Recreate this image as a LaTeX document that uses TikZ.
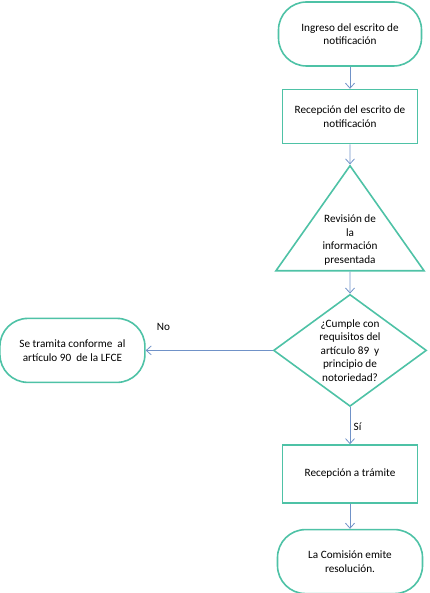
\documentclass[tikz,border=0pt]{standalone}
\usepackage{fontspec}
\setmainfont{Carlito}
\usetikzlibrary{positioning,shapes.geometric,arrows.meta}
\definecolor{borde}{RGB}{78,194,166}
\definecolor{flecha}{RGB}{112,146,200}
\tikzset{
  terminal/.style={draw=borde, line width=1.6pt, rounded corners=28pt, align=center, minimum width=143pt, minimum height=64pt},
  proceso/.style={draw=borde, line width=1.6pt, align=center, minimum width=135pt, minimum height=54pt},
  flujo/.style={draw=flecha, line width=0.8pt, ->}
}
\begin{document}
\begin{tikzpicture}[x=1pt, y=1pt, >={Straight Barb[length=5pt,width=9pt]}, font=\fontsize{11.2}{13.6}\selectfont]
\useasboundingbox (0,0) rectangle (429,-593);
\node[terminal] (ingreso) at (350,-34) {Ingreso del escrito de\\notificación};
\node[proceso, below=22pt of ingreso] (recepcion) {Recepción del escrito de\\notificación};
\node[draw=borde, line width=1.6pt, isosceles triangle, shape border rotate=90, isosceles triangle apex angle=70.4, inner sep=0pt, minimum width=148pt, minimum height=105pt, align=center, below=20pt of recepcion] (revision) {Revisión de\\la\\información\\presentada};
\node[draw=borde, line width=1.6pt, diamond, aspect=1.37, inner sep=0pt, minimum width=153pt, minimum height=112pt, align=center, below=22pt of revision] (cumple) {¿Cumple con\\requisitos del\\artículo 89 \ y\\principio de\\notoriedad?};
\node[terminal, minimum width=145pt, minimum height=64pt, left=127pt of cumple] (tramita) {Se tramita conforme \ al\\artículo 90 \ de la LFCE};
\node[proceso, minimum height=58pt, below=37pt of cumple] (tramite) {Recepción a trámite};
\node[terminal, minimum width=145pt, below=25pt of tramite] (resolucion) {La Comisión emite\\resolución.};
\draw[flujo] (ingreso) -- (recepcion);
\draw[flujo] (recepcion) -- (revision);
\draw[flujo] (revision) -- (cumple);
\draw[flujo] (cumple) -- node[pos=0.86, above=16pt] {No} (tramita);
\draw[flujo] (cumple) -- node[pos=0.52, right] {Sí} (tramite);
\draw[flujo] (tramite) -- (resolucion);
\end{tikzpicture}
\end{document}
